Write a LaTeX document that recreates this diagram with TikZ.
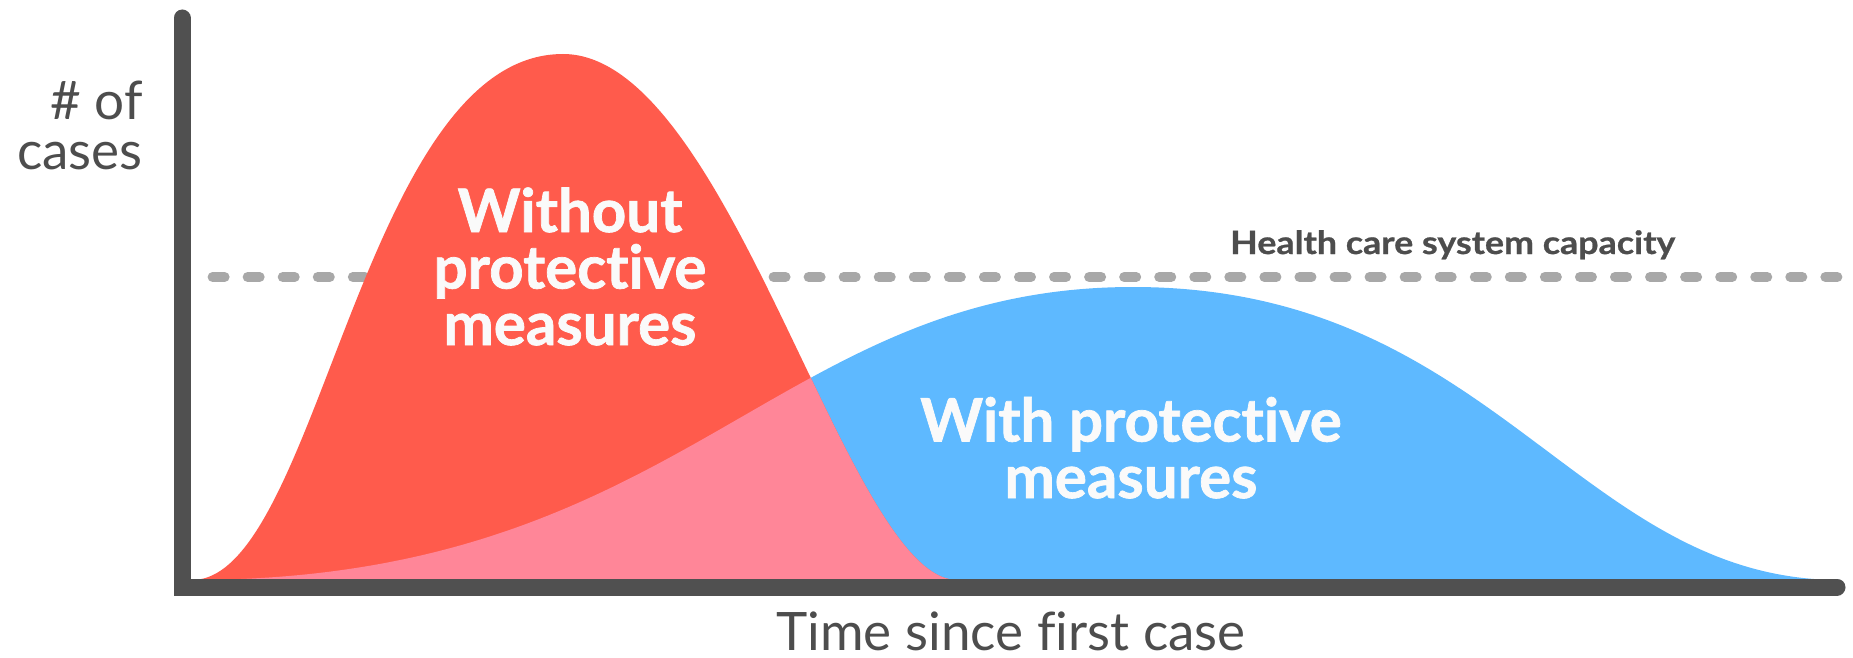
\documentclass[tikz,border=0pt]{standalone}
\usepackage{fontspec}
\setmainfont{Lato}[Ligatures=NoCommon]
\usetikzlibrary{positioning}
\definecolor{redcurve}{HTML}{FF5B4C}
\definecolor{bluecurve}{HTML}{5EB9FF}
\definecolor{pinkcurve}{HTML}{FF8698}
\definecolor{axisgrey}{HTML}{505050}
\definecolor{dashgrey}{HTML}{A8A8A8}
\definecolor{textgrey}{HTML}{4D4D4D}

\begin{document}
\begin{tikzpicture}[x=1pt,y=-1pt]

\tikzset{axisline/.style={line width=17pt,color=axisgrey,line cap=round,line join=miter},
capline/.style={line width=10pt,color=dashgrey,line cap=round,dash pattern=on 12pt off 23.06pt},
greytext/.style={font=\fontsize{53}{60}\selectfont,text=textgrey,inner sep=0pt},
caplabel/.style={font=\fontsize{32}{36}\selectfont\bfseries\addfontfeatures{FakeStretch=1.12,FakeBold=0.8},text=textgrey,inner sep=0pt},
whitelabel/.style={font=\fontsize{60}{56.5}\selectfont\bfseries\addfontfeatures{FakeBold=1.2},text=white!98!black,align=center,inner sep=0pt}}

\useasboundingbox (0,0) rectangle (1853,658);

% Capacity line (behind the curves)
\draw[capline] (212.6,277) -- (1853,277);

% Curves
\fill[bluecurve] (192,580) .. controls (686,580) and (773,287) .. (1133,287) .. controls (1494,287) and (1578,580) .. (1840,580) -- cycle;
\fill[redcurve] (192,580) .. controls (318.5,580) and (362,54) .. (563,54) .. controls (731,54) and (846.5,580) .. (957,580) -- cycle;
\begin{scope}
\clip (192,580) .. controls (686,580) and (773,287) .. (1133,287) .. controls (1494,287) and (1578,580) .. (1840,580) -- cycle;
\fill[pinkcurve] (192,580) .. controls (318.5,580) and (362,54) .. (563,54) .. controls (731,54) and (846.5,580) .. (957,580) -- cycle;
\end{scope}

% Axis
\draw[axisline] (182,18) -- (182,587) -- (1837,587);

% Labels
\node[greytext,anchor=base east] (ylabA) at (143,120) {\# of};
\node[greytext,anchor=base east] (ylabB) at (143,170) {cases};
\node[greytext,anchor=base] (xlab) at (1011,650) {Time since first case};
\node[caplabel,anchor=base west] (caplab) at (1230,254) {Health care system capacity};
\node[whitelabel,anchor=base] (without) at (570,345) {Without\\protective\\measures};
\node[whitelabel,anchor=base] (with) at (1131,498) {With protective\\measures};

\end{tikzpicture}
\end{document}
